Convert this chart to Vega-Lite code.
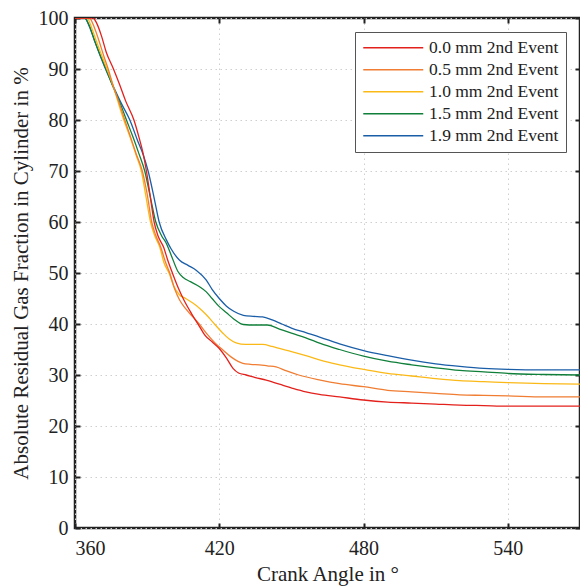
{
  "$schema": "https://vega.github.io/schema/vega-lite/v6.json",
  "width": 505,
  "height": 510,
  "autosize": {"type": "none"},
  "padding": {"left": 75, "top": 18, "right": 0, "bottom": 60},
  "background": "white",
  "config": {
    "view": {"stroke": "#222", "strokeWidth": 2.5},
    "font": "Liberation Serif",
    "axis": {
      "labelFont": "Liberation Serif",
      "titleFont": "Liberation Serif",
      "labelFontSize": 20,
      "titleFontSize": 21,
      "labelColor": "#222",
      "titleColor": "#222",
      "titleFontWeight": "normal",
      "domain": false,
      "tickColor": "#222",
      "tickWidth": 2,
      "tickSize": -5,
      "gridColor": "#cfcfcf",
      "gridDash": [1.5, 3.5],
      "gridWidth": 1
    }
  },
  "data": {
    "values": [
      {"series": "1.9 mm 2nd Event", "angle": 360, "fraction": 100},
      {"series": "1.9 mm 2nd Event", "angle": 364, "fraction": 100},
      {"series": "1.9 mm 2nd Event", "angle": 366, "fraction": 98.3},
      {"series": "1.9 mm 2nd Event", "angle": 368, "fraction": 95.7},
      {"series": "1.9 mm 2nd Event", "angle": 370, "fraction": 93.2},
      {"series": "1.9 mm 2nd Event", "angle": 372.7, "fraction": 90},
      {"series": "1.9 mm 2nd Event", "angle": 376, "fraction": 86.5},
      {"series": "1.9 mm 2nd Event", "angle": 379, "fraction": 83.5},
      {"series": "1.9 mm 2nd Event", "angle": 382.8, "fraction": 80},
      {"series": "1.9 mm 2nd Event", "angle": 386, "fraction": 76},
      {"series": "1.9 mm 2nd Event", "angle": 388.5, "fraction": 73},
      {"series": "1.9 mm 2nd Event", "angle": 390.4, "fraction": 70},
      {"series": "1.9 mm 2nd Event", "angle": 393, "fraction": 64.5},
      {"series": "1.9 mm 2nd Event", "angle": 395, "fraction": 60},
      {"series": "1.9 mm 2nd Event", "angle": 398, "fraction": 56.5},
      {"series": "1.9 mm 2nd Event", "angle": 400, "fraction": 54.7},
      {"series": "1.9 mm 2nd Event", "angle": 403.5, "fraction": 52.5},
      {"series": "1.9 mm 2nd Event", "angle": 407, "fraction": 51.5},
      {"series": "1.9 mm 2nd Event", "angle": 410.5, "fraction": 50.5},
      {"series": "1.9 mm 2nd Event", "angle": 414.6, "fraction": 48.6},
      {"series": "1.9 mm 2nd Event", "angle": 417, "fraction": 46.8},
      {"series": "1.9 mm 2nd Event", "angle": 420, "fraction": 45},
      {"series": "1.9 mm 2nd Event", "angle": 423, "fraction": 43.5},
      {"series": "1.9 mm 2nd Event", "angle": 426, "fraction": 42.5},
      {"series": "1.9 mm 2nd Event", "angle": 430, "fraction": 41.7},
      {"series": "1.9 mm 2nd Event", "angle": 434, "fraction": 41.5},
      {"series": "1.9 mm 2nd Event", "angle": 438, "fraction": 41.4},
      {"series": "1.9 mm 2nd Event", "angle": 442, "fraction": 40.8},
      {"series": "1.9 mm 2nd Event", "angle": 446, "fraction": 40},
      {"series": "1.9 mm 2nd Event", "angle": 450, "fraction": 39.2},
      {"series": "1.9 mm 2nd Event", "angle": 456, "fraction": 38.3},
      {"series": "1.9 mm 2nd Event", "angle": 462, "fraction": 37.4},
      {"series": "1.9 mm 2nd Event", "angle": 470, "fraction": 36.1},
      {"series": "1.9 mm 2nd Event", "angle": 480, "fraction": 34.8},
      {"series": "1.9 mm 2nd Event", "angle": 490, "fraction": 33.8},
      {"series": "1.9 mm 2nd Event", "angle": 500, "fraction": 32.9},
      {"series": "1.9 mm 2nd Event", "angle": 510, "fraction": 32.2},
      {"series": "1.9 mm 2nd Event", "angle": 520, "fraction": 31.7},
      {"series": "1.9 mm 2nd Event", "angle": 530, "fraction": 31.3},
      {"series": "1.9 mm 2nd Event", "angle": 540, "fraction": 31.1},
      {"series": "1.9 mm 2nd Event", "angle": 555, "fraction": 31.0},
      {"series": "1.9 mm 2nd Event", "angle": 570, "fraction": 31.0},

      {"series": "1.5 mm 2nd Event", "angle": 360, "fraction": 100},
      {"series": "1.5 mm 2nd Event", "angle": 364, "fraction": 100},
      {"series": "1.5 mm 2nd Event", "angle": 366, "fraction": 98.5},
      {"series": "1.5 mm 2nd Event", "angle": 368, "fraction": 95.8},
      {"series": "1.5 mm 2nd Event", "angle": 370, "fraction": 93.3},
      {"series": "1.5 mm 2nd Event", "angle": 372.9, "fraction": 90},
      {"series": "1.5 mm 2nd Event", "angle": 376, "fraction": 86.3},
      {"series": "1.5 mm 2nd Event", "angle": 379, "fraction": 83},
      {"series": "1.5 mm 2nd Event", "angle": 381.4, "fraction": 80},
      {"series": "1.5 mm 2nd Event", "angle": 384, "fraction": 76.8},
      {"series": "1.5 mm 2nd Event", "angle": 386.5, "fraction": 73.5},
      {"series": "1.5 mm 2nd Event", "angle": 389, "fraction": 70},
      {"series": "1.5 mm 2nd Event", "angle": 391.5, "fraction": 64.5},
      {"series": "1.5 mm 2nd Event", "angle": 393.6, "fraction": 60},
      {"series": "1.5 mm 2nd Event", "angle": 396, "fraction": 57.3},
      {"series": "1.5 mm 2nd Event", "angle": 398, "fraction": 55.8},
      {"series": "1.5 mm 2nd Event", "angle": 400, "fraction": 53.5},
      {"series": "1.5 mm 2nd Event", "angle": 402.8, "fraction": 50.3},
      {"series": "1.5 mm 2nd Event", "angle": 405, "fraction": 49.1},
      {"series": "1.5 mm 2nd Event", "angle": 408, "fraction": 48.3},
      {"series": "1.5 mm 2nd Event", "angle": 411.8, "fraction": 47.3},
      {"series": "1.5 mm 2nd Event", "angle": 414.6, "fraction": 46.3},
      {"series": "1.5 mm 2nd Event", "angle": 417, "fraction": 45},
      {"series": "1.5 mm 2nd Event", "angle": 420, "fraction": 43.4},
      {"series": "1.5 mm 2nd Event", "angle": 423, "fraction": 42.2},
      {"series": "1.5 mm 2nd Event", "angle": 426, "fraction": 41},
      {"series": "1.5 mm 2nd Event", "angle": 430, "fraction": 39.9},
      {"series": "1.5 mm 2nd Event", "angle": 435, "fraction": 39.8},
      {"series": "1.5 mm 2nd Event", "angle": 440, "fraction": 39.8},
      {"series": "1.5 mm 2nd Event", "angle": 445, "fraction": 39},
      {"series": "1.5 mm 2nd Event", "angle": 450, "fraction": 38.2},
      {"series": "1.5 mm 2nd Event", "angle": 456, "fraction": 37.3},
      {"series": "1.5 mm 2nd Event", "angle": 462, "fraction": 36.2},
      {"series": "1.5 mm 2nd Event", "angle": 470, "fraction": 35},
      {"series": "1.5 mm 2nd Event", "angle": 480, "fraction": 33.7},
      {"series": "1.5 mm 2nd Event", "angle": 490, "fraction": 32.7},
      {"series": "1.5 mm 2nd Event", "angle": 500, "fraction": 32},
      {"series": "1.5 mm 2nd Event", "angle": 510, "fraction": 31.4},
      {"series": "1.5 mm 2nd Event", "angle": 520, "fraction": 30.9},
      {"series": "1.5 mm 2nd Event", "angle": 530, "fraction": 30.6},
      {"series": "1.5 mm 2nd Event", "angle": 540, "fraction": 30.3},
      {"series": "1.5 mm 2nd Event", "angle": 555, "fraction": 30.1},
      {"series": "1.5 mm 2nd Event", "angle": 570, "fraction": 30.0},

      {"series": "1.0 mm 2nd Event", "angle": 360, "fraction": 100},
      {"series": "1.0 mm 2nd Event", "angle": 365, "fraction": 100},
      {"series": "1.0 mm 2nd Event", "angle": 367, "fraction": 98},
      {"series": "1.0 mm 2nd Event", "angle": 369, "fraction": 95.3},
      {"series": "1.0 mm 2nd Event", "angle": 371, "fraction": 92.8},
      {"series": "1.0 mm 2nd Event", "angle": 373.3, "fraction": 90},
      {"series": "1.0 mm 2nd Event", "angle": 376, "fraction": 86.5},
      {"series": "1.0 mm 2nd Event", "angle": 378, "fraction": 83.4},
      {"series": "1.0 mm 2nd Event", "angle": 380.3, "fraction": 80},
      {"series": "1.0 mm 2nd Event", "angle": 383, "fraction": 76.5},
      {"series": "1.0 mm 2nd Event", "angle": 385.5, "fraction": 73},
      {"series": "1.0 mm 2nd Event", "angle": 387.6, "fraction": 70},
      {"series": "1.0 mm 2nd Event", "angle": 389.5, "fraction": 65},
      {"series": "1.0 mm 2nd Event", "angle": 391.4, "fraction": 60},
      {"series": "1.0 mm 2nd Event", "angle": 393, "fraction": 57.5},
      {"series": "1.0 mm 2nd Event", "angle": 395.3, "fraction": 55},
      {"series": "1.0 mm 2nd Event", "angle": 397, "fraction": 52},
      {"series": "1.0 mm 2nd Event", "angle": 399.1, "fraction": 50},
      {"series": "1.0 mm 2nd Event", "angle": 401, "fraction": 47.5},
      {"series": "1.0 mm 2nd Event", "angle": 403.5, "fraction": 45.7},
      {"series": "1.0 mm 2nd Event", "angle": 406, "fraction": 45},
      {"series": "1.0 mm 2nd Event", "angle": 409, "fraction": 44.1},
      {"series": "1.0 mm 2nd Event", "angle": 412, "fraction": 43},
      {"series": "1.0 mm 2nd Event", "angle": 414.6, "fraction": 41.8},
      {"series": "1.0 mm 2nd Event", "angle": 418, "fraction": 40},
      {"series": "1.0 mm 2nd Event", "angle": 421.5, "fraction": 38.2},
      {"series": "1.0 mm 2nd Event", "angle": 424, "fraction": 37.1},
      {"series": "1.0 mm 2nd Event", "angle": 427, "fraction": 36.3},
      {"series": "1.0 mm 2nd Event", "angle": 431, "fraction": 36},
      {"series": "1.0 mm 2nd Event", "angle": 435, "fraction": 36},
      {"series": "1.0 mm 2nd Event", "angle": 438, "fraction": 36},
      {"series": "1.0 mm 2nd Event", "angle": 442, "fraction": 35.6},
      {"series": "1.0 mm 2nd Event", "angle": 445, "fraction": 35.2},
      {"series": "1.0 mm 2nd Event", "angle": 450, "fraction": 34.6},
      {"series": "1.0 mm 2nd Event", "angle": 456, "fraction": 33.8},
      {"series": "1.0 mm 2nd Event", "angle": 462, "fraction": 32.9},
      {"series": "1.0 mm 2nd Event", "angle": 470, "fraction": 32},
      {"series": "1.0 mm 2nd Event", "angle": 480, "fraction": 31.1},
      {"series": "1.0 mm 2nd Event", "angle": 490, "fraction": 30.3},
      {"series": "1.0 mm 2nd Event", "angle": 500, "fraction": 29.8},
      {"series": "1.0 mm 2nd Event", "angle": 510, "fraction": 29.3},
      {"series": "1.0 mm 2nd Event", "angle": 520, "fraction": 28.9},
      {"series": "1.0 mm 2nd Event", "angle": 530, "fraction": 28.7},
      {"series": "1.0 mm 2nd Event", "angle": 540, "fraction": 28.5},
      {"series": "1.0 mm 2nd Event", "angle": 555, "fraction": 28.3},
      {"series": "1.0 mm 2nd Event", "angle": 570, "fraction": 28.2},

      {"series": "0.5 mm 2nd Event", "angle": 360, "fraction": 100},
      {"series": "0.5 mm 2nd Event", "angle": 366, "fraction": 100},
      {"series": "0.5 mm 2nd Event", "angle": 368, "fraction": 98.2},
      {"series": "0.5 mm 2nd Event", "angle": 370, "fraction": 95.5},
      {"series": "0.5 mm 2nd Event", "angle": 372, "fraction": 92.5},
      {"series": "0.5 mm 2nd Event", "angle": 373.8, "fraction": 90},
      {"series": "0.5 mm 2nd Event", "angle": 376, "fraction": 86.5},
      {"series": "0.5 mm 2nd Event", "angle": 378.5, "fraction": 83.2},
      {"series": "0.5 mm 2nd Event", "angle": 380.7, "fraction": 80},
      {"series": "0.5 mm 2nd Event", "angle": 383, "fraction": 76.8},
      {"series": "0.5 mm 2nd Event", "angle": 385.5, "fraction": 73.3},
      {"series": "0.5 mm 2nd Event", "angle": 388, "fraction": 70},
      {"series": "0.5 mm 2nd Event", "angle": 390, "fraction": 65.5},
      {"series": "0.5 mm 2nd Event", "angle": 391.9, "fraction": 60},
      {"series": "0.5 mm 2nd Event", "angle": 393.5, "fraction": 57.5},
      {"series": "0.5 mm 2nd Event", "angle": 395.7, "fraction": 55},
      {"series": "0.5 mm 2nd Event", "angle": 397.5, "fraction": 52.3},
      {"series": "0.5 mm 2nd Event", "angle": 399.4, "fraction": 50},
      {"series": "0.5 mm 2nd Event", "angle": 401.5, "fraction": 46.8},
      {"series": "0.5 mm 2nd Event", "angle": 403.5, "fraction": 44.7},
      {"series": "0.5 mm 2nd Event", "angle": 406, "fraction": 43},
      {"series": "0.5 mm 2nd Event", "angle": 409, "fraction": 41.4},
      {"series": "0.5 mm 2nd Event", "angle": 412, "fraction": 39.8},
      {"series": "0.5 mm 2nd Event", "angle": 414.6, "fraction": 38.2},
      {"series": "0.5 mm 2nd Event", "angle": 418, "fraction": 36.4},
      {"series": "0.5 mm 2nd Event", "angle": 421.5, "fraction": 34.9},
      {"series": "0.5 mm 2nd Event", "angle": 425, "fraction": 33.5},
      {"series": "0.5 mm 2nd Event", "angle": 429.8, "fraction": 32.3},
      {"series": "0.5 mm 2nd Event", "angle": 433, "fraction": 32.1},
      {"series": "0.5 mm 2nd Event", "angle": 436.7, "fraction": 32},
      {"series": "0.5 mm 2nd Event", "angle": 440, "fraction": 31.8},
      {"series": "0.5 mm 2nd Event", "angle": 443.6, "fraction": 31.6},
      {"series": "0.5 mm 2nd Event", "angle": 448, "fraction": 30.8},
      {"series": "0.5 mm 2nd Event", "angle": 453, "fraction": 30},
      {"series": "0.5 mm 2nd Event", "angle": 462, "fraction": 29},
      {"series": "0.5 mm 2nd Event", "angle": 470, "fraction": 28.3},
      {"series": "0.5 mm 2nd Event", "angle": 480, "fraction": 27.7},
      {"series": "0.5 mm 2nd Event", "angle": 490, "fraction": 27},
      {"series": "0.5 mm 2nd Event", "angle": 500, "fraction": 26.7},
      {"series": "0.5 mm 2nd Event", "angle": 510, "fraction": 26.4},
      {"series": "0.5 mm 2nd Event", "angle": 520, "fraction": 26.1},
      {"series": "0.5 mm 2nd Event", "angle": 530, "fraction": 26},
      {"series": "0.5 mm 2nd Event", "angle": 540, "fraction": 25.9},
      {"series": "0.5 mm 2nd Event", "angle": 555, "fraction": 25.7},
      {"series": "0.5 mm 2nd Event", "angle": 570, "fraction": 25.7},

      {"series": "0.0 mm 2nd Event", "angle": 360, "fraction": 100},
      {"series": "0.0 mm 2nd Event", "angle": 367.5, "fraction": 100},
      {"series": "0.0 mm 2nd Event", "angle": 369, "fraction": 99},
      {"series": "0.0 mm 2nd Event", "angle": 371, "fraction": 96.5},
      {"series": "0.0 mm 2nd Event", "angle": 373, "fraction": 93.3},
      {"series": "0.0 mm 2nd Event", "angle": 376, "fraction": 90},
      {"series": "0.0 mm 2nd Event", "angle": 378.5, "fraction": 87},
      {"series": "0.0 mm 2nd Event", "angle": 381, "fraction": 83.8},
      {"series": "0.0 mm 2nd Event", "angle": 384.5, "fraction": 80},
      {"series": "0.0 mm 2nd Event", "angle": 386.5, "fraction": 76.8},
      {"series": "0.0 mm 2nd Event", "angle": 388.3, "fraction": 73.5},
      {"series": "0.0 mm 2nd Event", "angle": 389.7, "fraction": 70},
      {"series": "0.0 mm 2nd Event", "angle": 391.3, "fraction": 65},
      {"series": "0.0 mm 2nd Event", "angle": 392.9, "fraction": 60},
      {"series": "0.0 mm 2nd Event", "angle": 394.5, "fraction": 57.3},
      {"series": "0.0 mm 2nd Event", "angle": 396.9, "fraction": 55},
      {"series": "0.0 mm 2nd Event", "angle": 398.5, "fraction": 52.6},
      {"series": "0.0 mm 2nd Event", "angle": 400.5, "fraction": 50},
      {"series": "0.0 mm 2nd Event", "angle": 403, "fraction": 47},
      {"series": "0.0 mm 2nd Event", "angle": 405.5, "fraction": 44.5},
      {"series": "0.0 mm 2nd Event", "angle": 408.5, "fraction": 42},
      {"series": "0.0 mm 2nd Event", "angle": 411.8, "fraction": 39.5},
      {"series": "0.0 mm 2nd Event", "angle": 414, "fraction": 37.8},
      {"series": "0.0 mm 2nd Event", "angle": 417, "fraction": 36.5},
      {"series": "0.0 mm 2nd Event", "angle": 420, "fraction": 35.2},
      {"series": "0.0 mm 2nd Event", "angle": 423, "fraction": 33.3},
      {"series": "0.0 mm 2nd Event", "angle": 425.7, "fraction": 31.3},
      {"series": "0.0 mm 2nd Event", "angle": 428, "fraction": 30.4},
      {"series": "0.0 mm 2nd Event", "angle": 431.2, "fraction": 30},
      {"series": "0.0 mm 2nd Event", "angle": 435, "fraction": 29.5},
      {"series": "0.0 mm 2nd Event", "angle": 439.5, "fraction": 29},
      {"series": "0.0 mm 2nd Event", "angle": 445, "fraction": 28.2},
      {"series": "0.0 mm 2nd Event", "angle": 450.5, "fraction": 27.4},
      {"series": "0.0 mm 2nd Event", "angle": 456, "fraction": 26.7},
      {"series": "0.0 mm 2nd Event", "angle": 461.6, "fraction": 26.2},
      {"series": "0.0 mm 2nd Event", "angle": 470, "fraction": 25.7},
      {"series": "0.0 mm 2nd Event", "angle": 480, "fraction": 25.1},
      {"series": "0.0 mm 2nd Event", "angle": 490, "fraction": 24.7},
      {"series": "0.0 mm 2nd Event", "angle": 500, "fraction": 24.5},
      {"series": "0.0 mm 2nd Event", "angle": 510, "fraction": 24.3},
      {"series": "0.0 mm 2nd Event", "angle": 520, "fraction": 24.1},
      {"series": "0.0 mm 2nd Event", "angle": 530, "fraction": 24.0},
      {"series": "0.0 mm 2nd Event", "angle": 540, "fraction": 23.9},
      {"series": "0.0 mm 2nd Event", "angle": 555, "fraction": 23.9},
      {"series": "0.0 mm 2nd Event", "angle": 570, "fraction": 23.9}
    ]
  },
  "layer": [
    {
      "mark": {"type": "line", "strokeWidth": 1.3, "clip": true, "interpolate": "monotone"},
      "encoding": {
        "x": {
          "field": "angle", "type": "quantitative",
          "scale": {"domain": [360, 570], "nice": false, "zero": false},
          "axis": {"values": [360, 420, 480, 540], "title": "Crank Angle in °", "labelPadding": 15, "titlePadding": 5, "grid": true}
        },
        "y": {
          "field": "fraction", "type": "quantitative",
          "scale": {"domain": [0, 100], "nice": false},
          "axis": {"values": [0, 10, 20, 30, 40, 50, 60, 70, 80, 90, 100], "title": "Absolute Residual Gas Fraction in Cylinder in %", "labelPadding": 12, "titlePadding": 7, "grid": true}
        },
        "color": {
          "field": "series", "type": "nominal",
          "scale": {
            "domain": ["0.0 mm 2nd Event", "0.5 mm 2nd Event", "1.0 mm 2nd Event", "1.5 mm 2nd Event", "1.9 mm 2nd Event"],
            "range": ["#e3211c", "#f07d32", "#fbb917", "#0f7f3a", "#1a5ea8"]
          },
          "legend": {
            "title": null,
            "orient": "top-right",
            "offset": 14,
            "symbolType": "M-1.25,0H8.75",
            "symbolSize": 144,
            "symbolStrokeWidth": 1.5,
            "labelFont": "Liberation Serif",
            "labelFontSize": 17.5,
            "labelColor": "#222",
            "labelOffset": 49.5,
            "strokeColor": "#555",
            "fillColor": "white",
            "padding": 7,
            "rowPadding": 3
          }
        }
      }
    },
    {
      "mark": {"type": "point", "opacity": 0},
      "encoding": {
        "x": {"field": "angle", "type": "quantitative", "axis": {"orient": "top", "values": [360, 420, 480, 540], "labels": false, "title": null, "grid": false}},
        "y": {"field": "fraction", "type": "quantitative", "axis": {"orient": "right", "values": [0, 10, 20, 30, 40, 50, 60, 70, 80, 90, 100], "labels": false, "title": null, "grid": false}}
      }
    }
  ],
  "resolve": {"axis": {"x": "independent", "y": "independent"}}
}
